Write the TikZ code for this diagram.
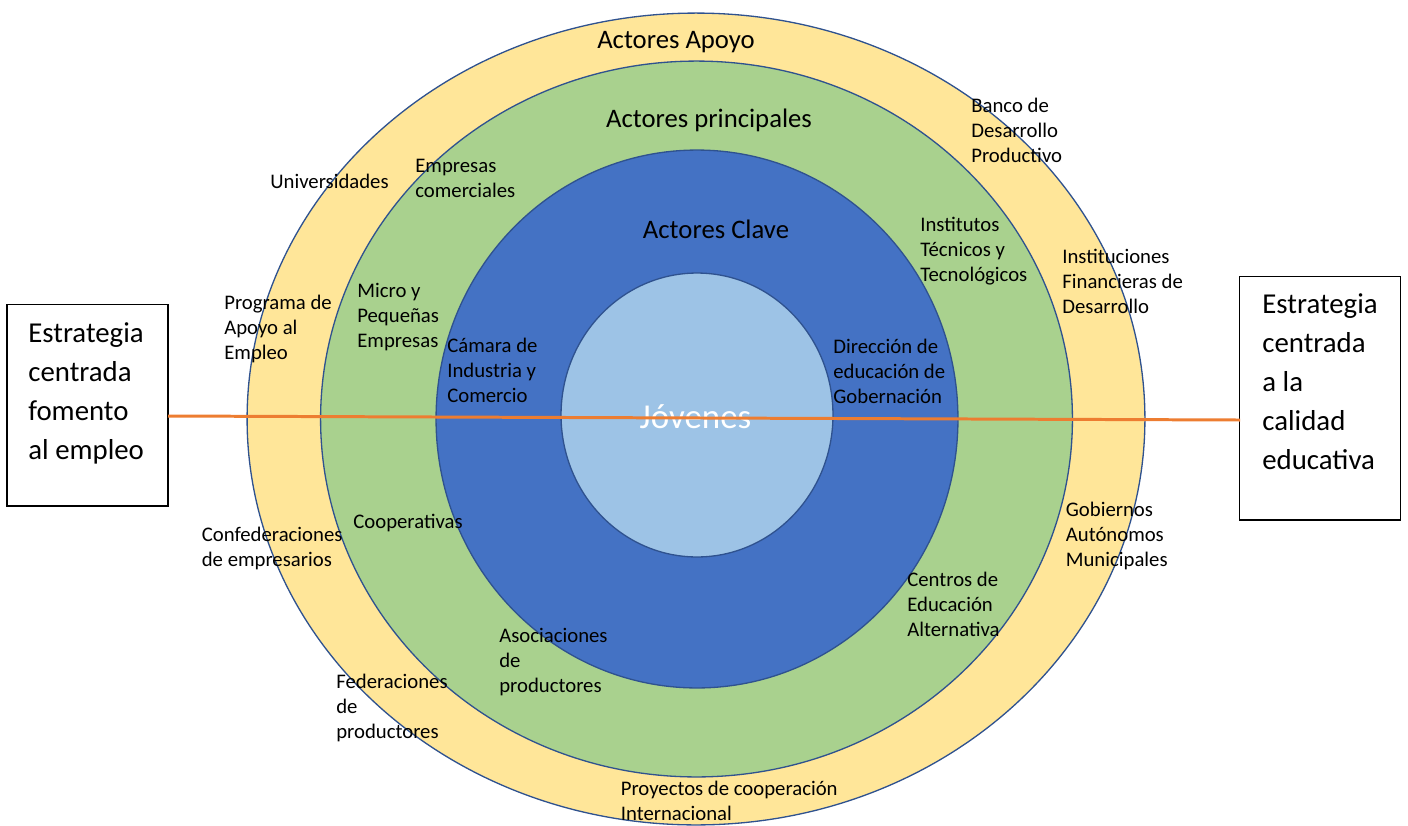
\documentclass[tikz,border=0pt]{standalone}
\usepackage{fontspec}
\setmainfont{Carlito}
\definecolor{ringY}{HTML}{FFE699}
\definecolor{ringG}{HTML}{A9D18E}
\definecolor{ringB}{HTML}{4472C4}
\definecolor{ringL}{HTML}{9DC3E6}
\definecolor{ringEdge}{HTML}{2F528F}
\definecolor{axisOrange}{HTML}{ED7D31}
\begin{document}
\begin{tikzpicture}[x=0.02cm, y=-0.02cm,
  ring/.style={draw=ringEdge, line width=0.75pt},
  lbl/.style={anchor=north west, align=left, inner sep=0pt, text=black,
    font=\fontsize{11.8}{14.2}\selectfont, execute at begin node=\strut},
  boxtxt/.style={anchor=north west, align=left, inner sep=0pt, text=black,
    font=\fontsize{16.4}{22.1}\selectfont, execute at begin node=\strut},
  ttl/.style={anchor=base, inner sep=0pt, text=black, font=\fontsize{15.2}{18}\selectfont},
  stratbox/.style={draw=black, line width=0.6pt, fill=white, minimum width=3.22cm, inner sep=0pt},
  axisline/.style={draw=axisOrange, line width=1.7pt}
]
\useasboundingbox (0,0) rectangle (1408,825);

% rings
\path[ring, fill=ringY] (696,419) ellipse [x radius=8.98cm, y radius=8.12cm];
\path[ring, fill=ringG] (696.5,419) ellipse [x radius=7.52cm, y radius=7.16cm];
\path[ring, fill=ringB] (697,419) ellipse [x radius=5.22cm, y radius=5.38cm];
\path[ring, fill=ringL] (697,415) ellipse [x radius=2.72cm, y radius=2.84cm];

% titles
\node[ttl] (tApoyo) at (676,48) {Actores Apoyo};
\node[ttl] (tPrin) at (709,127) {Actores principales};
\node[ttl] (tClave) at (716,238) {Actores Clave};
\node[anchor=base, inner sep=0pt, text=white, font=\fontsize{19.9}{24}\selectfont] (tJov) at (695.5,428) {Jóvenes};

% strategy boxes
\node[stratbox, minimum height=4.04cm] (lbox) at (87.5,405) {};
\node[stratbox, minimum height=4.88cm] (rbox) at (1320,398) {};
\node[boxtxt] (lboxt) at (28,322.7) {Estrategia\\centrada\\fomento\\al empleo};
\node[boxtxt] (rboxt) at (1262,293.7) {Estrategia\\centrada\\a la\\calidad\\educativa};

% orange axis
\coordinate (lineL) at (168,416);
\coordinate (lineR) at (1240,420);
\draw[axisline] (lineL) -- (lineR);

% labels
\node[lbl] (uni) at (270,171) {Universidades};
\node[lbl] (emp) at (415,158.5) {Empresas\\comerciales};
\node[lbl] (banco) at (971,98) {Banco de\\Desarrollo\\Productivo};
\node[lbl] (inst) at (920,216.5) {Institutos\\Técnicos y\\Tecnológicos};
\node[lbl] (ifd) at (1062,248.5) {Instituciones\\Financieras de\\Desarrollo};
\node[lbl] (prog) at (224,294.5) {Programa de\\Apoyo al\\Empleo};
\node[lbl] (mype) at (357,282.5) {Micro y\\Pequeñas\\Empresas};
\node[lbl] (cam) at (447,337.5) {Cámara de\\Industria y\\Comercio};
\node[lbl] (dir) at (833,339) {Dirección de\\educación de\\Gobernación};
\node[lbl] (coop) at (353,511) {Cooperativas};
\node[lbl] (conf) at (201.5,526.5) {Confederaciones\\de empresarios};
\node[lbl] (gob) at (1065.5,501.5) {Gobiernos\\Autónomos\\Municipales};
\node[lbl] (cea) at (907,572) {Centros de\\Educación\\Alternativa};
\node[lbl] (asoc) at (499,627.5) {Asociaciones\\de\\productores};
\node[lbl] (fed) at (336,673.5) {Federaciones\\de\\productores};
\node[lbl] (proy) at (620.5,780.5) {Proyectos de cooperación\\Internacional};
\end{tikzpicture}
\end{document}
